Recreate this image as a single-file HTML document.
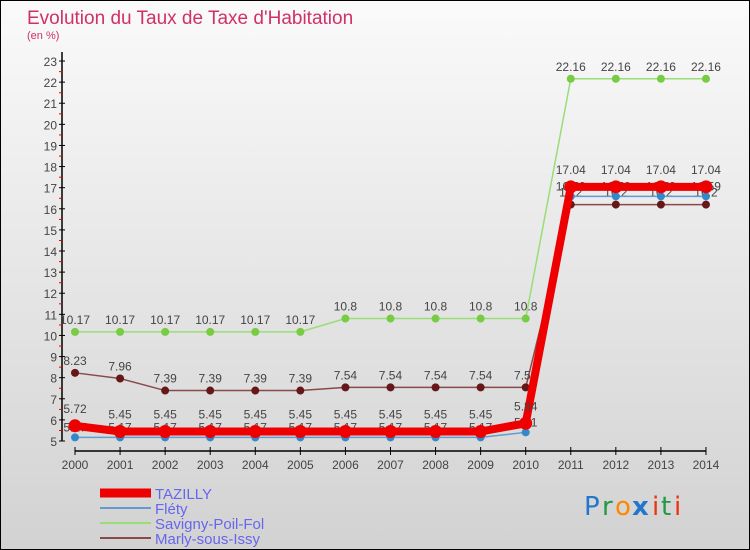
<!DOCTYPE html>
<html><head><meta charset="utf-8">
<style>
body{margin:0;width:750px;height:550px;overflow:hidden;font-family:"Liberation Sans",sans-serif;}
#wrap{position:absolute;left:0;top:0;width:748px;height:548px;border:1px solid #000;background:linear-gradient(#fafafa,#d2d2d2);}
</style></head><body>
<div id="wrap"></div>
<svg id="chart" width="750" height="550" style="position:absolute;left:0;top:0">
<text x="27" y="24" font-size="19" fill="#d0306a">Evolution du Taux de Taxe d'Habitation</text>
<text x="27" y="39" font-size="11" fill="#d0306a">(en %)</text>
<g id="axes"></g><g id="series"></g><g id="legend"></g>
<g font-size="26" font-family="DejaVu Sans, sans-serif">
<text x="584" y="515" fill="#2277cc">P</text><text x="602" y="515" fill="#229944">r</text><text x="615" y="515" fill="#ff8800">o</text><text x="632" y="515" fill="#2277cc" font-weight="bold">x</text><text x="652" y="515" fill="#ee3311">i</text><text x="661" y="515" fill="#229944">t</text><text x="674" y="515" fill="#ee3311">i</text>
</g>
</svg>
<script>
const years=[2000,2001,2002,2003,2004,2005,2006,2007,2008,2009,2010,2011,2012,2013,2014];
const yTicks=[5,6,7,8,9,10,11,12,13,14,15,16,17,18,19,20,21,22,23];
const tazilly=[5.72,5.45,5.45,5.45,5.45,5.45,5.45,5.45,5.45,5.45,5.84,17.04,17.04,17.04,17.04];
const flety=[5.17,5.17,5.17,5.17,5.17,5.17,5.17,5.17,5.17,5.17,5.41,16.59,16.59,16.59,16.59];
const savigny=[10.17,10.17,10.17,10.17,10.17,10.17,10.8,10.8,10.8,10.8,10.8,22.16,22.16,22.16,22.16];
const marly=[8.23,7.96,7.39,7.39,7.39,7.39,7.54,7.54,7.54,7.54,7.54,16.2,16.2,16.2,16.2];
const NS="http://www.w3.org/2000/svg";
const xS=i=>75+i*45.07, yS=v=>441-(v-5)*21.11;
function mk(t,a,p){const e=document.createElementNS(NS,t);for(const k in a)e.setAttribute(k,a[k]);p.appendChild(e);return e;}
const ax=document.getElementById('axes');
const yAxis=mk('line',{x1:62,y1:52,x2:62,y2:441,stroke:'#000','stroke-width':1.5},ax);


const xAxis=mk('line',{x1:75,y1:451,x2:706,y2:451,stroke:'#000','stroke-width':1.5},ax);


yTicks.forEach(v=>{
 mk('line',{x1:59,y1:yS(v),x2:65,y2:yS(v),stroke:'#000'},ax);
 if(v<23) mk('line',{x1:59,y1:yS(v)-10.5,x2:62,y2:yS(v)-10.5,stroke:'#e00'},ax);
 const t=mk('text',{x:57,y:yS(v)+5,'font-size':12,'text-anchor':'end',fill:'#444'},ax);t.textContent=v;
 
 
});
years.forEach((y,i)=>{
 mk('line',{x1:xS(i),y1:447,x2:xS(i),y2:455,stroke:'#000'},ax);
 const t=mk('text',{x:xS(i),y:469,'font-size':12,'text-anchor':'middle',fill:'#444'},ax);t.textContent=y;
 
 
});
const sg=document.getElementById('series');
function draw(vals,color,w,r,dotFill,name,labelOff){
 const g=mk('g',{},sg);
 
 
 mk('polyline',{points:vals.map((v,i)=>xS(i)+','+yS(v)).join(' '),fill:'none',stroke:color,'stroke-width':w},g);
 vals.forEach((v,i)=>{
  const c=mk('circle',{cx:xS(i),cy:yS(v),r:r,fill:dotFill},g);
  
  
  const t=mk('text',{x:xS(i),y:yS(v)+labelOff,'font-size':12,'text-anchor':'middle',fill:'#444'},g);t.textContent=v;
 });
}
draw(savigny,'#99dd77',1.5,4,'#77cc44','series-savigny',-8);
draw(marly,'#8a4a4a',1.5,4,'#661818','series-marly',-8);
draw(flety,'#6699cc',1.5,4,'#3388cc','series-flety',-6);
draw(tazilly,'#ee0000',8,6.5,'#ee0000','series-tazilly',-13);
const lg=document.getElementById('legend');
const items=[['TAZILLY','#ee0000',9],['Fléty','#6699cc',2],['Savigny-Poil-Fol','#99dd77',2],['Marly-sous-Issy','#8a4a4a',2]];
items.forEach((it,i)=>{
 const y=493+i*15;
 const g=mk('g',{},lg);
 
 
 mk('line',{x1:100,y1:y,x2:151,y2:y,stroke:it[1],'stroke-width':it[2]},g);
 const t=mk('text',{x:155,y:y+6,'font-size':15,fill:'#6666ee'},g);t.textContent=it[0];
});
</script>
</body></html>
